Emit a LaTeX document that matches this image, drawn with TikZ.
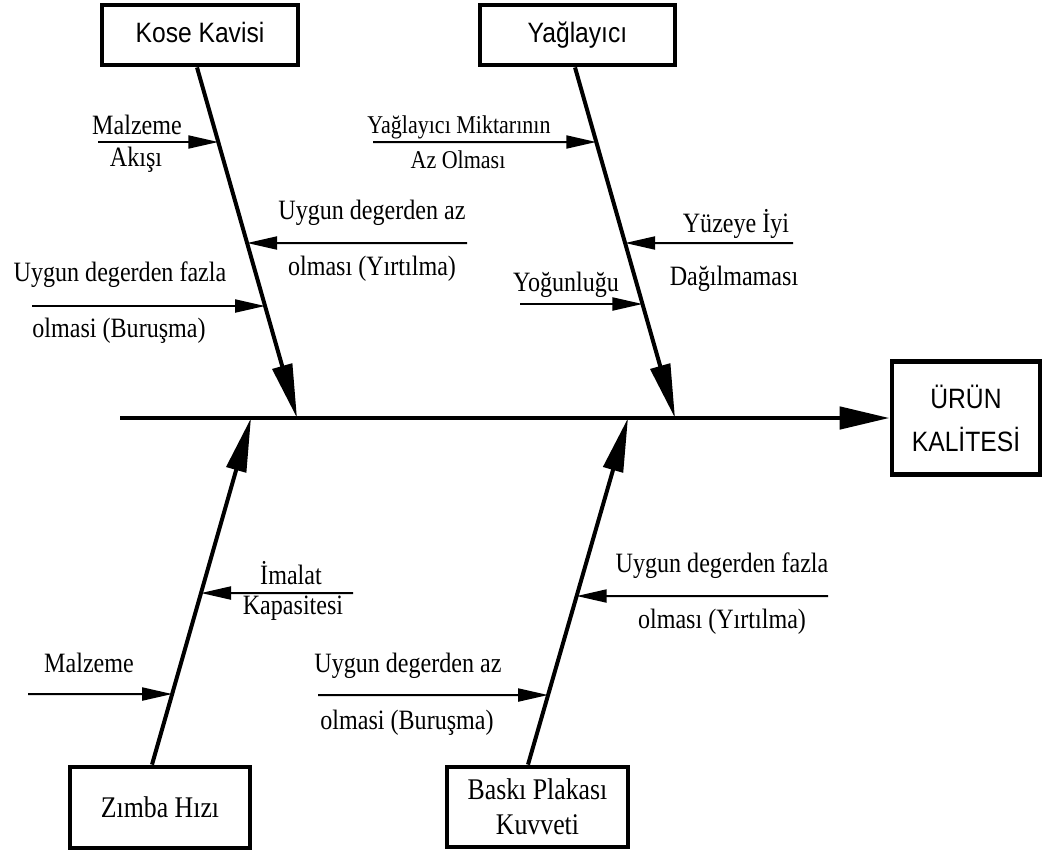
\documentclass[tikz,border=0pt]{standalone}
\usepackage{fontspec}
\setmainfont{Liberation Serif}[FakeStretch=0.86]
\setsansfont{Liberation Sans}[FakeStretch=0.88]
\usetikzlibrary{arrows.meta}

\tikzset{
	box/.style={draw, line width=2.4pt, inner sep=0pt, align=center},
	bone/.style={line width=2pt, -{Triangle[length=27pt,width=10pt]}},
	spine/.style={line width=2.4pt, -{Triangle[length=25pt,width=11pt]}},
	sub/.style={line width=1pt, -{Triangle[length=15pt,width=6.5pt]}},
	lbl/.style={font=\fontsize{14}{16}\selectfont, inner sep=0pt},
	sans/.style={font=\sffamily\fontsize{14}{21.5}\selectfont},
	serif/.style={font=\fontsize{15}{17.5}\selectfont}
}

\begin{document}
\begin{tikzpicture}[x=0.5pt, y=-0.5pt]
	\useasboundingbox (0,0) rectangle (1045,852);

	% boxes
	\node [box, sans, text height=10pt, text depth=3pt, minimum width=98pt, minimum height=30pt] (kose) at (200,35) {Kose Kavisi};
	\node [box, sans, text height=10pt, text depth=3pt, minimum width=97.5pt, minimum height=30pt] (yag) at (577.5,35) {Yağlayıcı};
	\node [box, sans, minimum width=74pt, minimum height=56.5pt] (urun) at (966,418) {ÜRÜN\\KALİTESİ};
	\node [box, serif, minimum width=90pt, minimum height=40.5pt] (zimba) at (160,807.5) {Zımba Hızı};
	\node [box, serif, minimum width=90.5pt, minimum height=40pt] (baski) at (537.5,807) {Baskı Plakası\\Kuvveti};

	% spine and bones
	\coordinate (s0) at (120,418);
	\coordinate (k1) at (297,418);
	\coordinate (y1) at (675,418);
	\coordinate (z1) at (251,418);
	\coordinate (b1) at (628,418);
	\coordinate (kt) at ([xshift=-1.5pt]kose.south);
	\coordinate (yt) at ([xshift=-1.25pt]yag.south);
	\coordinate (zt) at ([xshift=-4pt]zimba.north);
	\coordinate (bt) at ([xshift=-4.75pt]baski.north);

	\draw [spine] (s0) -- (urun.west);
	\draw [bone] (kt) -- (k1);
	\draw [bone] (yt) -- (y1);
	\draw [bone] (zt) -- (z1);
	\draw [bone] (bt) -- (b1);

	% Kose Kavisi
	\coordinate (c1) at (98,142);
	\coordinate (c2) at (467,243);
	\coordinate (c3) at (32,306);
	\draw [sub] (c1) -- (intersection of kt--k1 and c1--0,142);
	\draw [sub] (c2) -- (intersection of kt--k1 and c2--0,243);
	\draw [sub] (c3) -- (intersection of kt--k1 and c3--0,306);
	\node [lbl] (c1a) at (137,125) {Malzeme};
	\node [lbl] (c1b) at (136,160) {Akışı};
	\node [lbl] (c2a) at (372,213) {Uygun degerden az};
	\node [lbl] (c2b) at (372,269) {olması (Yırtılma)};
	\node [lbl] (c3a) at (120,275) {Uygun degerden fazla};
	\node [lbl] (c3b) at (119,331) {olmasi (Buruşma)};

	% Yaglayici
	\coordinate (y2) at (373,142);
	\coordinate (y3) at (793,243);
	\coordinate (y4) at (520,304);
	\draw [sub] (y2) -- (intersection of yt--y1 and y2--0,142);
	\draw [sub] (y3) -- (intersection of yt--y1 and y3--0,243);
	\draw [sub] (y4) -- (intersection of yt--y1 and y4--0,304);
	\node [lbl, font=\fontsize{12.8}{14}\selectfont] (y2a) at (459,127) {Yağlayıcı Miktarının};
	\node [lbl, font=\fontsize{12.8}{14}\selectfont] (y2b) at (458,160) {Az Olması};
	\node [lbl] (y3a) at (736,224) {Yüzeye İyi};
	\node [lbl] (y3b) at (734,279) {Dağılmaması};
	\node [lbl] (y4a) at (566,285) {Yoğunluğu};

	% Zimba Hizi
	\coordinate (z2) at (353,593);
	\coordinate (z3) at (28,694);
	\draw [sub] (z2) -- (intersection of zt--z1 and z2--0,593);
	\draw [sub] (z3) -- (intersection of zt--z1 and z3--0,694);
	\node [lbl] (z2a) at (291,573) {İmalat};
	\node [lbl] (z2b) at (293,608) {Kapasitesi};
	\node [lbl] (z3a) at (89,663) {Malzeme};

	% Baski Plakasi Kuvveti
	\coordinate (b2) at (828,596);
	\coordinate (b3) at (318,695);
	\draw [sub] (b2) -- (intersection of bt--b1 and b2--0,596);
	\draw [sub] (b3) -- (intersection of bt--b1 and b3--0,695);
	\node [lbl] (b2a) at (722,566) {Uygun degerden fazla};
	\node [lbl] (b2b) at (722,622) {olması (Yırtılma)};
	\node [lbl] (b3a) at (408,666) {Uygun degerden az};
	\node [lbl] (b3b) at (407,723) {olmasi (Buruşma)};
\end{tikzpicture}
\end{document}
